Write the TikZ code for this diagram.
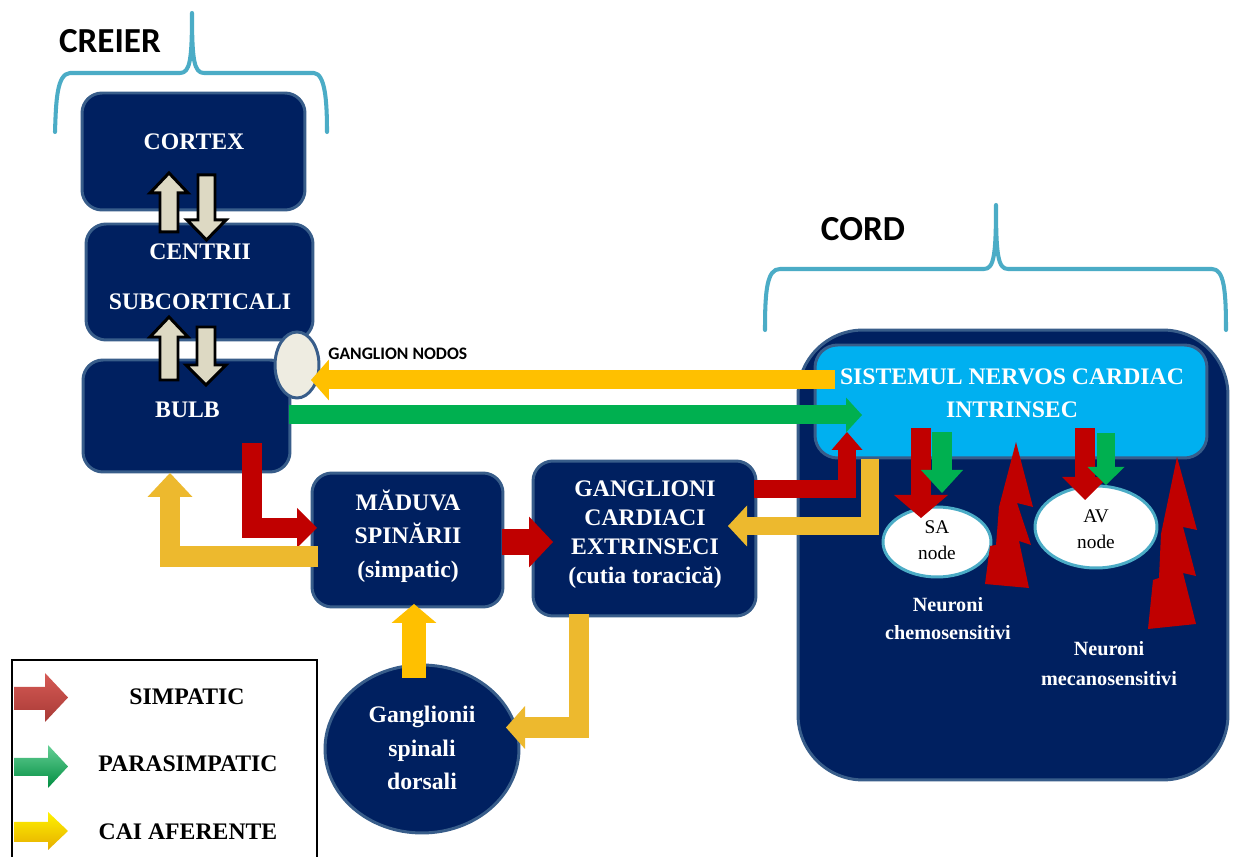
\documentclass[tikz,border=0pt]{standalone}
\usepackage{fontspec}
\setmainfont{Liberation Serif}
\newfontfamily\carlito{Carlito}
\usetikzlibrary{arrows.meta,shapes.geometric}
\definecolor{navy}{HTML}{002060}
\definecolor{bord}{HTML}{385D8A}
\definecolor{lblue}{HTML}{00B0F0}
\definecolor{redc}{HTML}{C00000}
\definecolor{greenc}{HTML}{00B050}
\definecolor{yelA}{HTML}{FFC000}
\definecolor{yelB}{HTML}{EDB92E}
\definecolor{tealc}{HTML}{4BACC6}
\definecolor{beige}{HTML}{DDD9C3}
\definecolor{nodosfill}{HTML}{EEECE1}
\definecolor{legRtop}{HTML}{D65A55}
\definecolor{legRbot}{HTML}{A83A36}
\tikzset{
  box/.style={draw=bord, fill=navy, line width=1.7pt, rounded corners=0.4cm, inner sep=0pt},
  wt/.style={text=white, font=\fontsize{13.5pt}{#1}\selectfont\bfseries, align=center, inner sep=0pt},
  wt/.default=16pt,
  ws/.style={text=white, font=\fontsize{11.5pt}{#1}\selectfont\bfseries, align=center, inner sep=0pt},
  bt/.style={text=black, font=\fontsize{13.5pt}{16pt}\selectfont\bfseries, inner sep=0pt},
  hd/.style={font=\carlito\bfseries\fontsize{20pt}{24pt}\selectfont, inner sep=0pt},
  brace/.style={draw=tealc, line width=2.3pt, line join=round, line cap=round},
  ar/.style n args={4}{draw=#1, line width=#2, line join=miter,
     -{Triangle[width=#3, length=#4, line width=0pt]}},
  vbeige/.style={fill=beige, draw=black, line width=1.7pt, line join=miter},
  nodelbl/.style={font=\fontsize{11pt}{14.8pt}\selectfont, align=center, inner sep=0pt}
}
\begin{document}
\begin{tikzpicture}[x=0.02cm, y=-0.02cm]
\useasboundingbox (0,0) rectangle (1235,857);
\fill[white] (0,0) rectangle (1235,857);

% braces and headings
\draw[brace] (55,132) .. controls (56,100) and (57,74) .. (70,73) -- (180,73)
  .. controls (190,73) and (192,60) .. (192,13)
  .. controls (192,60) and (194,73) .. (204,73) -- (314,73)
  .. controls (325,74) and (327,100) .. (327,132);
\node[hd] (creier) at (110,41) {CREIER};
\draw[brace] (765,330) .. controls (765,290) and (767,269) .. (780,269) -- (984,269)
  .. controls (994,269) and (996,255) .. (996,205)
  .. controls (996,255) and (998,269) .. (1008,269) -- (1212,269)
  .. controls (1224,269) and (1226,290) .. (1226,330);
\node[hd] (cordT) at (863,229) {CORD};

% brain boxes
\node[box, minimum width=4.46cm, minimum height=2.34cm] (cortex) at (193.5,151.5) {};
\node[wt] (cortexT) at (194,142) {CORTEX};
\node[box, minimum width=4.54cm, minimum height=2.32cm] (centrii) at (199.5,282) {};
\node[wt=28.5pt] (centriiT) at (200,277) {CENTRII\\SUBCORTICALI};
\node[box, minimum width=4.14cm, minimum height=2.24cm] (bulb) at (186.5,416) {};
\node[wt] (bulbT) at (187.5,410) {BULB};

% spinal / ganglia
\node[box, minimum width=3.82cm, minimum height=2.68cm] (maduva) at (407.5,540) {};
\node[wt=19pt] (maduvaT) at (408,536) {MĂDUVA\\SPINĂRII\\(simpatic)};
\node[box, minimum width=4.46cm, minimum height=3.1cm] (gcard) at (644.5,538.5) {};
\node[wt=16.5pt] (gcardT) at (645,535) {GANGLIONI\\CARDIACI\\EXTRINSECI\\(cutia toracică)};
\node[ellipse, draw=bord, fill=navy, line width=1.7pt, minimum width=3.88cm, minimum height=3.36cm, inner sep=0pt] (gsd) at (422,749) {};
\node[wt=19pt] (gsdT) at (422,748) {Ganglionii\\spinali\\dorsali};

% heart
\node[box, rounded corners=1.3cm, minimum width=8.6cm, minimum height=9cm] (cord) at (1013,555) {};
\node[draw=bord, fill=lblue, line width=1.7pt, rounded corners=0.45cm, minimum width=7.84cm, minimum height=2.26cm, inner sep=0pt] (snci) at (1011,401.5) {};
\node[wt=18.8pt] (snciT) at (1012,393.5) {SISTEMUL NERVOS CARDIAC\\INTRINSEC};
\node[ellipse, draw=tealc, fill=white, line width=1.7pt, minimum width=2.16cm, minimum height=1.4cm, inner sep=0pt] (sa) at (937,542) {};
\node[nodelbl] (saT) at (937,540.5) {SA\\node};
\node[ellipse, draw=tealc, fill=white, line width=1.7pt, minimum width=2.44cm, minimum height=1.64cm, inner sep=0pt] (av) at (1096,527) {};
\node[nodelbl] (avT) at (1096,529) {AV\\node};
\node[ws=16pt] (chemo) at (948,619) {Neuroni\\chemosensitivi};
\node[ws=17pt] (meca) at (1109,664) {Neuroni\\mecanosensitivi};

% ganglion nodos
\node[ellipse, draw=bord, fill=nodosfill, line width=1.7pt, minimum width=0.88cm, minimum height=1.32cm, inner sep=0pt] (nodos) at (297,365) {};
\node[anchor=west, font=\carlito\bfseries\fontsize{10pt}{12pt}\selectfont, inner sep=0pt] (nodosT) at (328,354) {GANGLION NODOS};

% beige vertical arrows
\draw[vbeige] (160,232) -- (160,193) -- (150,193) -- (169,173) -- (188,193) -- (178,193) -- (178,232) -- cycle;
\draw[vbeige] (198,175) -- (198,220) -- (187,220) -- (206.5,240) -- (226,220) -- (215,220) -- (215,175) -- cycle;
\draw[vbeige] (160,380) -- (160,337) -- (150,337) -- (169,317) -- (188,337) -- (178,337) -- (178,380) -- cycle;
\draw[vbeige] (197,327) -- (197,365) -- (186,365) -- (206,385) -- (226,365) -- (215,365) -- (215,327) -- cycle;

% coloured connector coordinates
\coordinate (nodosS) at (835,380);  \coordinate (nodosE) at (311,380);
\coordinate (grS) at (289,415);     \coordinate (grE) at (862,415);
\coordinate (r1S) at (252,443);     \coordinate (r1E) at (317,528);
\coordinate (y1S) at (318,556.5);   \coordinate (y1E) at (170,473);
\coordinate (r2S) at (502,542);     \coordinate (r2E) at (553,542);
\coordinate (r3S) at (754,489);     \coordinate (r3E) at (847,432);
\coordinate (y2S) at (869.5,459);   \coordinate (y2E) at (728,526);
\coordinate (y3S) at (414,678);     \coordinate (y3E) at (414,604);
\coordinate (y4S) at (579,614);     \coordinate (y4E) at (506,727.5);
\coordinate (rsaS) at (921,428);    \coordinate (rsaE) at (921,518);
\coordinate (gsaS) at (942,432);    \coordinate (gsaE) at (942,493);
\coordinate (ravS) at (1085,428);   \coordinate (ravE) at (1085,500);
\coordinate (gavS) at (1106,433);   \coordinate (gavE) at (1106,485);

\draw[ar={yelA}{0.38cm}{0.82cm}{0.36cm}] (nodosS) -- (nodosE);
\draw[ar={greenc}{0.38cm}{0.7cm}{0.32cm}] (grS) -- (grE);
\draw[ar={redc}{0.4cm}{0.8cm}{0.4cm}] (r1S) |- (r1E);
\draw[ar={yelB}{0.41cm}{0.9cm}{0.48cm}] (y1S) -| (y1E);
\draw[ar={redc}{0.52cm}{1.02cm}{0.48cm}] (r2S) -- (r2E);
\draw[ar={redc}{0.35cm}{0.62cm}{0.36cm}] (r3S) -| (r3E);
\draw[ar={yelB}{0.36cm}{0.82cm}{0.38cm}] (y2S) |- (y2E);
\draw[ar={yelA}{0.48cm}{0.9cm}{0.38cm}] (y3S) -- (y3E);
\draw[ar={yelB}{0.41cm}{0.86cm}{0.38cm}] (y4S) |- (y4E);
\draw[ar={redc}{0.4cm}{1.08cm}{0.46cm}] (rsaS) -- (rsaE);
\draw[ar={greenc}{0.4cm}{0.84cm}{0.46cm}] (gsaS) -- (gsaE);
\draw[ar={redc}{0.4cm}{0.92cm}{0.46cm}] (ravS) -- (ravE);
\draw[ar={greenc}{0.36cm}{0.74cm}{0.36cm}] (gavS) -- (gavE);

% lightning bolts
\fill[redc] (1016,442) -- (1033,507) -- (1017,503) -- (1031,545) -- (1019,541)
  -- (1029,588) -- (985,584) -- (990,546) -- (996,545) -- (999,507) -- cycle;
\fill[redc] (1177,457) -- (1197,530) -- (1183,527) -- (1196,576) -- (1183,573)
  -- (1196,624) -- (1148,629) -- (1153,580) -- (1159,578) -- (1161,534) -- cycle;

% legend
\draw[black, line width=1.7pt] (12,880) -- (12,660) -- (317,660) -- (317,880);
\shade[top color=legRtop, bottom color=legRbot] (14,687) -- (45,687) -- (45,673) -- (68,697.5) -- (45,722) -- (45,710) -- (14,710) -- cycle;
\shade[top color=greenc!60, bottom color=greenc!80!black] (14,758) -- (48,758) -- (48,745) -- (68,766.5) -- (48,788) -- (48,776) -- (14,776) -- cycle;
\shade[top color=yellow!80!yelA, bottom color=yelA!90!black] (14,822) -- (48,822) -- (48,812) -- (68,831) -- (48,850) -- (48,842) -- (14,842) -- cycle;
\node[bt] (lsim) at (187,697) {SIMPATIC};
\node[bt] (lpar) at (188,764) {PARASIMPATIC};
\node[bt] (lcai) at (188,832) {CAI AFERENTE};
\end{tikzpicture}
\end{document}
